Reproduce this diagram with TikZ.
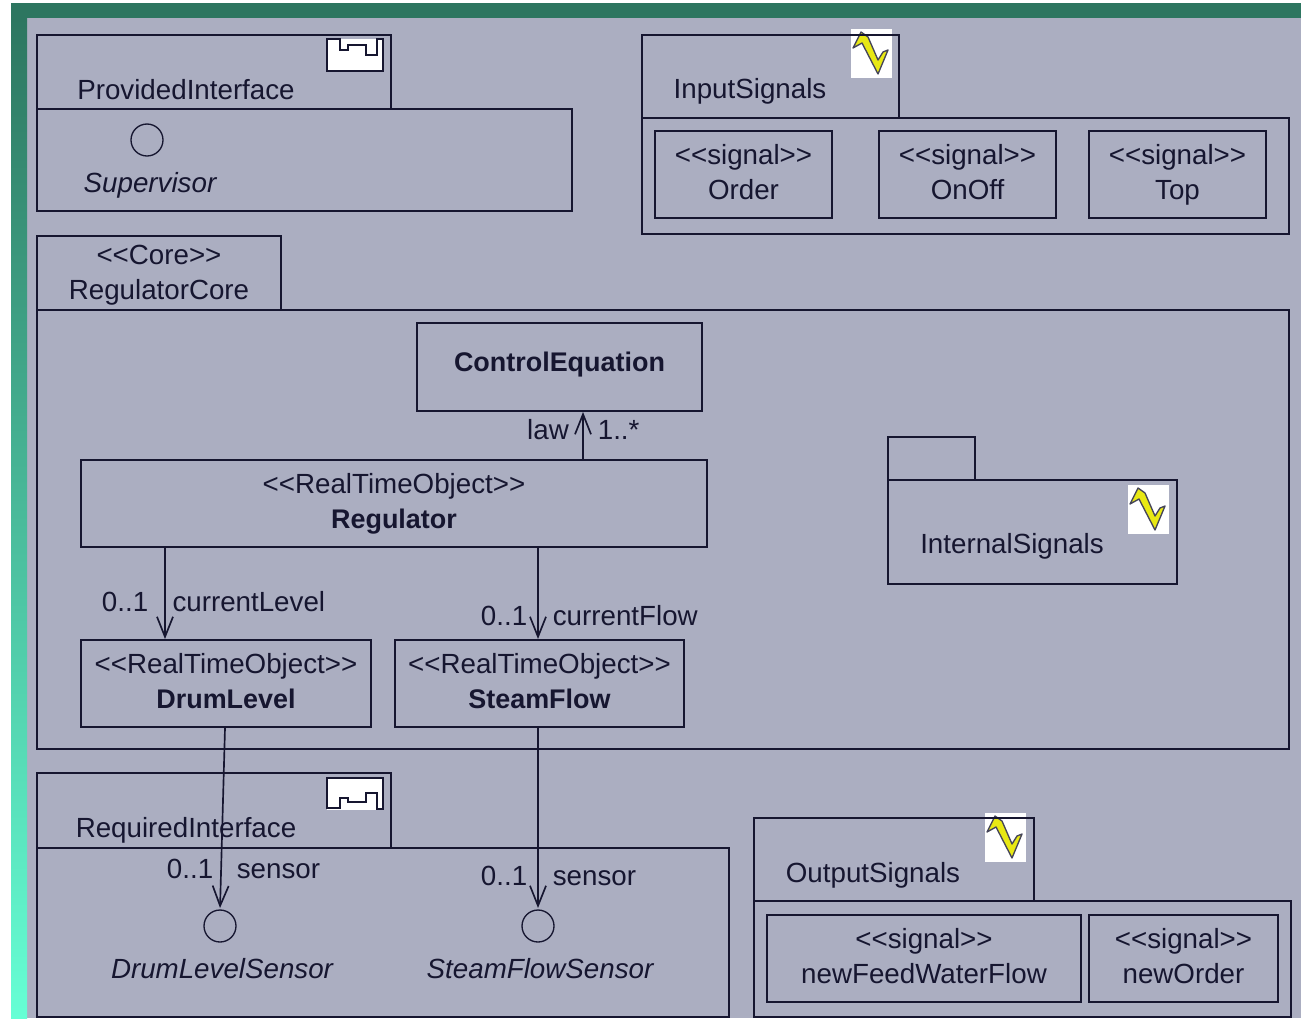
\documentclass[tikz,border=0pt]{standalone}
\usepackage{fontspec}
\setmainfont{Liberation Sans}
\usetikzlibrary{fit,arrows.meta}
\definecolor{panel}{RGB}{171,174,193}
\definecolor{bandtop}{RGB}{45,118,96}
\definecolor{bandbot}{RGB}{102,255,213}
\definecolor{umlink}{RGB}{22,22,48}
\definecolor{bolt}{RGB}{232,232,20}
\tikzset{
  umlbox/.style={draw=umlink,line width=1.5pt,inner sep=0pt,text=umlink,
    font=\fontsize{20.8}{26.25}\selectfont},
  umltext/.style={inner sep=0pt,text=umlink,font=\fontsize{20.8}{26.25}\selectfont},
  umlname/.style={umltext,font=\fontsize{20.8}{26.25}\selectfont\itshape},
  iface/.style={circle,draw=umlink,line width=1pt,minimum size=24pt,inner sep=0pt},
  assoc/.style={umltext,pos=1},
  signalicon/.pic={
    \fill[white] (0,0) rectangle (41,49);
    \filldraw[fill=bolt,draw=umlink!80,line width=1pt,line join=round]
      (10,3) -- (2,19) -- (11,14) -- (27,45) -- (37,21) -- (32,23) -- (27,31) -- (17,8) -- cycle;
  }
}
\newcommand{\bn}[1]{{\fontsize{20.2}{26.25}\selectfont\bfseries #1}}
\newcommand{\twolines}[2]{\raisebox{-45pt}{\begin{tabular}[b]{@{}c@{}}#1\\#2\end{tabular}}}
\begin{document}
\begin{tikzpicture}[x=0.75pt,y=-0.75pt,>={Straight Barb[length=15pt,width=12pt]}]
\useasboundingbox (0,0) rectangle (1301,1018);
% background
\fill[white] (0,0) rectangle (1301,1018);
\fill[panel] (27,18) rectangle (1301,1018);
\fill[bandtop] (11,3) rectangle (1301,18);
\shade[top color=bandtop,bottom color=bandbot] (11,18) rectangle (27,1018);
% package icons
\pic at (851,29) {signalicon};
\pic at (1128,485) {signalicon};
\pic at (985,813) {signalicon};
\fill[white] (327,39) rectangle (383,71);
\draw[umlink,line width=1.5pt] (327,39) -- (340,39) -- (340,50) -- (348,50) -- (348,45) -- (366,45) -- (366,55)
  -- (377,55) -- (377,39) -- (383,39) -- (383,71) -- (327,71) -- cycle;
\fill[white] (327,778) rectangle (383,810);
\draw[umlink,line width=1.5pt] (327,808) -- (340,808) -- (340,798) -- (348,798) -- (348,802) -- (366,802) -- (366,793)
  -- (377,793) -- (377,809) -- (383,809) -- (383,778) -- (327,778) -- cycle;
% packages
\node[umlbox,fit={(37,35) (391,109)}] (ProvidedTab) {};
\node[umlbox,fit={(37,109) (572,211)}] (ProvidedBody) {};
\node[umlbox,fit={(642,35) (899,118)}] (InputTab) {};
\node[umlbox,fit={(642,118) (1289,234)}] (InputBody) {};
\node[umlbox,fit={(37,236) (281,310)}] (CoreTab) {};
\node[umlbox,fit={(37,310) (1289,749)}] (CoreBody) {};
\node[umlbox,fit={(888,437) (975,480)}] (InternalTab) {};
\node[umlbox,fit={(888,480) (1177,584)}] (InternalBody) {};
\node[umlbox,fit={(37,773) (391,848)}] (RequiredTab) {};
\node[umlbox,fit={(37,848) (729,1017)}] (RequiredBody) {};
\node[umlbox,fit={(754,818) (1034,901)}] (OutputTab) {};
\node[umlbox,fit={(754,901) (1291,1017)}] (OutputBody) {};
\node[umltext] (ProvidedLabel) at (186,90) {ProvidedInterface};
\node[umltext] (InputLabel) at (750,91) {InputSignals};
\node[umltext,align=center] (CoreLabel) at (159,275) {<{}<Core>{}>\\RegulatorCore};
\node[umltext] (InternalLabel) at (1012,546) {InternalSignals};
\node[umltext] (RequiredLabel) at (186,830) {RequiredInterface};
\node[umltext] (OutputLabel) at (873,875) {OutputSignals};
% signals
\node[umlbox,fit={(655,131) (832,218)}] (Order) {\twolines{<{}<signal>{}>}{Order}};
\node[umlbox,fit={(879,131) (1056,218)}] (OnOff) {\twolines{<{}<signal>{}>}{OnOff}};
\node[umlbox,fit={(1089,131) (1266,218)}] (Top) {\twolines{<{}<signal>{}>}{Top}};
\node[umlbox,fit={(767,915) (1081,1002)}] (newFeedWaterFlow) {\twolines{<{}<signal>{}>}{newFeedWaterFlow}};
\node[umlbox,fit={(1089,915) (1278,1002)}] (newOrder) {\twolines{<{}<signal>{}>}{newOrder}};
% classes
\node[umlbox,fit={(417,323) (702,411)}] (ControlEquation) {\raisebox{-11.25pt}{\bn{ControlEquation}}};
\node[umlbox,fit={(81,460) (707,547)}] (Regulator) {\twolines{<{}<RealTimeObject>{}>}{\bn{Regulator}}};
\node[umlbox,fit={(81,640) (371,727)}] (DrumLevel) {\twolines{<{}<RealTimeObject>{}>}{\bn{DrumLevel}}};
\node[umlbox,fit={(395,640) (684,727)}] (SteamFlow) {\twolines{<{}<RealTimeObject>{}>}{\bn{SteamFlow}}};
% interfaces
\node[iface] (Supervisor) at (147,140) {};
\node[iface] (DrumLevelSensor) at (220,926) {};
\node[iface] (SteamFlowSensor) at (538,926) {};
\node[umlname] (SupervisorName) at (150,185) {Supervisor};
\node[umlname] (DrumLevelSensorName) at (222,969) {DrumLevelSensor};
\node[umlname] (SteamFlowSensorName) at (540,969) {SteamFlowSensor};
% associations
\coordinate (lawX) at (583,0);
\coordinate (levelX) at (165,0);
\coordinate (flowX) at (538,0);
\coordinate (sensorX) at (225,0);
\draw[->,umlink,line width=1.25pt] (Regulator.north -| lawX) -- (ControlEquation.south -| lawX)
  node[assoc,anchor=base east,xshift=-10pt,yshift=-20.5pt] (lawRole) {law}
  node[assoc,anchor=base west,xshift=10.5pt,yshift=-20.5pt] (lawCard) {1..*};
\draw[->,umlink,line width=1.25pt] (Regulator.south -| levelX) -- (DrumLevel.north -| levelX)
  node[assoc,anchor=base east,xshift=-12pt,yshift=21pt] (levelCard) {0..1}
  node[assoc,anchor=base west,xshift=5pt,yshift=21pt] (levelRole) {currentLevel};
\draw[->,umlink,line width=1.25pt] (Regulator.south -| flowX) -- (SteamFlow.north -| flowX)
  node[assoc,anchor=base east,xshift=-7.5pt,yshift=10.5pt] (flowCard) {0..1}
  node[assoc,anchor=base west,xshift=10.5pt,yshift=10.5pt] (flowRole) {currentFlow};
\draw[->,umlink,line width=1.25pt,shorten >=1pt] (DrumLevel.south -| sensorX) -- (DrumLevelSensor.north)
  node[assoc,anchor=base east,xshift=-4.5pt,yshift=23pt] (drumCard) {0..1}
  node[assoc,anchor=base west,xshift=12pt,yshift=23pt] (drumRole) {sensor};
\draw[->,umlink,line width=1.25pt,shorten >=1pt] (SteamFlow.south -| flowX) -- (SteamFlowSensor.north)
  node[assoc,anchor=base east,xshift=-7.5pt,yshift=18pt] (steamCard) {0..1}
  node[assoc,anchor=base west,xshift=10.5pt,yshift=18pt] (steamRole) {sensor};
\end{tikzpicture}
\end{document}
